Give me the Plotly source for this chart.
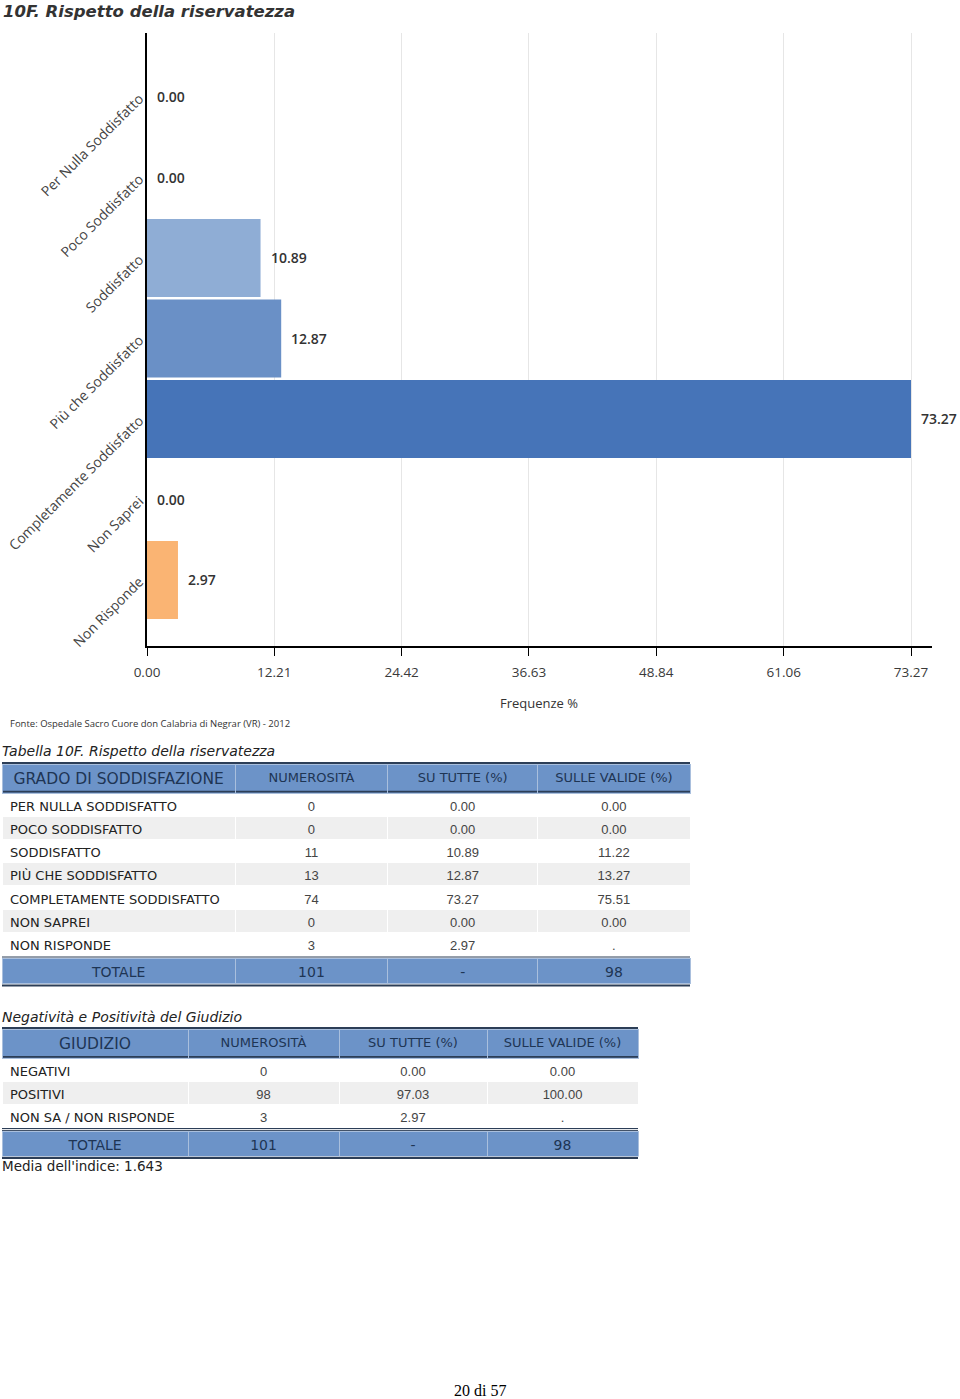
import plotly.graph_objects as go

W, H = 960, 1399

# ---------------- data ----------------
categories = ["Per Nulla Soddisfatto", "Poco Soddisfatto", "Soddisfatto",
              "Più che Soddisfatto", "Completamente Soddisfatto", "Non Saprei", "Non Risponde"]
frequenze = [0.00, 0.00, 10.89, 12.87, 73.27, 0.00, 2.97]
bar_colors = ["#D9675B", "#F29C6B", "#8FADD5", "#6A90C6", "#4674B8", "#BFBFBF", "#FAB473"]
x_tick_vals = [0.00, 12.21, 24.42, 36.63, 48.84, 61.06, 73.27]
x_tick_text = ["0.00", "12.21", "24.42", "36.63", "48.84", "61.06", "73.27"]

t1_header = ["GRADO DI SODDISFAZIONE", "NUMEROSITÀ", "SU TUTTE (%)", "SULLE VALIDE (%)"]
t1_labels = ["PER NULLA SODDISFATTO", "POCO SODDISFATTO", "SODDISFATTO", "PIÙ CHE SODDISFATTO",
             "COMPLETAMENTE SODDISFATTO", "NON SAPREI", "NON RISPONDE"]
t1_num = ["0", "0", "11", "13", "74", "0", "3"]
t1_tutte = ["0.00", "0.00", "10.89", "12.87", "73.27", "0.00", "2.97"]
t1_valide = ["0.00", "0.00", "11.22", "13.27", "75.51", "0.00", "."]
t1_total = ["TOTALE", "101", "-", "98"]

t2_header = ["GIUDIZIO", "NUMEROSITÀ", "SU TUTTE (%)", "SULLE VALIDE (%)"]
t2_labels = ["NEGATIVI", "POSITIVI", "NON SA / NON RISPONDE"]
t2_num = ["0", "98", "3"]
t2_tutte = ["0.00", "97.03", "2.97"]
t2_valide = ["0.00", "100.00", "."]
t2_total = ["TOTALE", "101", "-", "98"]

media_text = "Media dell'indice: 1.643"

# ---------------- styles ----------------
LABEL_FONT = "DejaVu Sans"
NUM_FONT = "Liberation Sans"
CHART_FONT = "Open Sans"
HEAD_BLUE = "#6C93C8"
NAVY = "#1E3554"
DARK_LINE = "#2C3E57"
SEP_LINE = "#A9BFDD"
ROW_GREY = "#EFEFEF"
CLEAR = "rgba(0,0,0,0)"


def py(y):
    return 1 - y / H


def px(x):
    return x / W


fig = go.Figure()

# ---------------- bar chart ----------------
fig.add_trace(go.Bar(
    y=categories, x=frequenze, orientation="h",
    marker=dict(color=bar_colors, line=dict(width=0)),
    hoverinfo="skip", showlegend=False,
))

annotations = []
for c, v in zip(categories, frequenze):
    annotations.append(dict(
        x=v, y=c, xref="x", yref="y", text=f"{v:.2f}", showarrow=False,
        xanchor="left", yanchor="middle", xshift=8,
        font=dict(family=CHART_FONT, size=14, color="#333333", weight=600),
    ))

# ---------------- tables ----------------
shapes = []


def hline(y, x0, x1, width=2, color=DARK_LINE):
    shapes.append(dict(type="line", xref="paper", yref="paper", layer="below",
                       x0=px(x0), x1=px(x1), y0=py(y), y1=py(y),
                       line=dict(color=color, width=width)))


def band(y0, y1, x0, x1, color):
    shapes.append(dict(type="rect", xref="paper", yref="paper", layer="below",
                       x0=px(x0), x1=px(x1), y0=py(y1), y1=py(y0),
                       fillcolor=color, line=dict(width=0)))


def add_block(header, labels, cols, total, x0, x1, widths, head_sizes,
              top, head_h, row_h, tot_h):
    n = len(labels)
    body_end = top + head_h + n * row_h
    # header background + dark rules (drawn under the transparent header cells)
    band(top, top + head_h, x0, x1, HEAD_BLUE)
    hline(top - 1, x0, x1, 2)
    hline(top + head_h - 1.6, x0, x1, 1.6)
    fills = [[("#FFFFFF" if i % 2 == 0 else ROW_GREY) for i in range(n)] for _ in header]
    fig.add_trace(go.Table(
        domain=dict(x=[px(x0), px(x1)], y=[py(body_end + 1.6), py(top)]),
        columnwidth=widths,
        header=dict(values=header, height=head_h, fill_color=CLEAR,
                    line=dict(color=SEP_LINE, width=1), align="center",
                    font=dict(family=LABEL_FONT, size=head_sizes, color=NAVY)),
        cells=dict(values=[labels] + cols, height=row_h, fill_color=fills,
                   line=dict(color="#FFFFFF", width=1),
                   align=["left", "center", "center", "center"],
                   font=dict(family=[LABEL_FONT, NUM_FONT, NUM_FONT, NUM_FONT],
                             size=[13, 13, 13, 13],
                             color=["#222222", "#444444", "#444444", "#444444"])),
    ))
    # double rule above the total row
    hline(body_end + 0.6, x0, x1, 1.2)
    hline(body_end + 2.6, x0, x1, 1.0)
    t_top = body_end + 3.6
    fig.add_trace(go.Table(
        domain=dict(x=[px(x0), px(x1)], y=[py(t_top + tot_h + 0.5), py(t_top)]),
        columnwidth=widths,
        header=dict(values=total, height=tot_h, fill_color=HEAD_BLUE,
                    line=dict(color=SEP_LINE, width=1), align="center",
                    font=dict(family=LABEL_FONT, size=14, color=NAVY)),
        cells=dict(values=[[""] for _ in total], height=1, fill_color=CLEAR,
                   line=dict(color=CLEAR, width=0), font=dict(size=1, color=CLEAR)),
    ))
    hline(t_top + tot_h + 1.5, x0, x1, 2.2)


add_block(t1_header, t1_labels, [t1_num, t1_tutte, t1_valide], t1_total,
          2, 690, [233, 152, 150, 152], [15.5, 13, 13, 13],
          764, 29.2, 23.17, 25)
add_block(t2_header, t2_labels, [t2_num, t2_tutte, t2_valide], t2_total,
          2, 638, [186, 151, 148, 151], [15.5, 13, 13, 13],
          1029, 29.5, 23.1, 25)

# ---------------- texts ----------------
def paper_text(text, x, y, size, family=LABEL_FONT, color="#333333", style="normal",
               weight="normal", xanchor="left"):
    annotations.append(dict(
        x=px(x), y=py(y), xref="paper", yref="paper", text=text, showarrow=False,
        xanchor=xanchor, yanchor="middle",
        font=dict(family=family, size=size, color=color, style=style, weight=weight),
    ))


paper_text("10F. Rispetto della riservatezza", 1, 11, 16.5, color="#333333",
           style="italic", weight="bold")
paper_text("Frequenze %", 539, 703, 13, family=CHART_FONT, color="#333333", xanchor="center")
paper_text("Fonte: Ospedale Sacro Cuore don Calabria di Negrar (VR) - 2012", 8, 723, 9.5,
           family=CHART_FONT, color="#333333")
paper_text("Tabella 10F. Rispetto della riservatezza", 0, 751, 14, style="italic", color="#222222")
paper_text("Negatività e Positività del Giudizio", 0, 1017, 14, style="italic", color="#222222")
paper_text(media_text, 0, 1166, 13.5, color="#222222")
paper_text("20 di 57", 480, 1390, 16, family="Liberation Serif", color="#000000", xanchor="center")

# ---------------- layout ----------------
x_left, x_right = 147, 932
scale = (911 - 147) / 73.27
x_max = (x_right - x_left) / scale

fig.update_layout(
    width=W, height=H, autosize=False,
    margin=dict(l=0, r=0, t=0, b=0, autoexpand=False),
    paper_bgcolor="white", plot_bgcolor="white",
    bargap=0.03,
    showlegend=False,
    xaxis=dict(
        domain=[px(x_left), px(x_right)], range=[0, x_max],
        tickvals=x_tick_vals, ticktext=x_tick_text,
        ticks="outside", ticklen=8, tickcolor="#000000", tickwidth=1,
        ticklabelstandoff=5,
        tickfont=dict(family=CHART_FONT, size=13.5, color="#3A3A3A"),
        showgrid=True, gridcolor="#E6E6E6", gridwidth=1,
        showline=True, linecolor="#000000", linewidth=1.5,
        zeroline=False, fixedrange=True, automargin=False,
    ),
    yaxis=dict(
        domain=[py(646), py(33)],
        type="category", categoryorder="array", categoryarray=categories,
        range=[6.82, -0.795],
        tickangle=-45, ticks="", ticklabelstandoff=3,
        tickfont=dict(family=CHART_FONT, size=14, color="#444444"),
        showgrid=False, showline=True, linecolor="#000000", linewidth=1.5,
        zeroline=False, fixedrange=True, automargin=False,
    ),
    annotations=annotations,
    shapes=shapes,
)

fig.write_html("out.html", config={"displayModeBar": False},
               post_script="document.body.style.margin='0';")
